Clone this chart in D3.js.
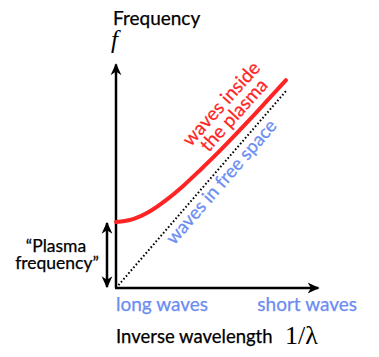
<!DOCTYPE html>
<html><head><meta charset="utf-8">
<script src="https://cdn.jsdelivr.net/npm/d3@7"></script>
<style>
body{margin:0;background:#fff;}
text{font-family:Lato,"Open Sans",sans-serif;}
.sans{stroke-width:0.25px;}
</style></head>
<body><svg id="c" width="379" height="357"></svg>
<script>
// Inverse wavelength (arbitrary units) and frequency of waves inside the plasma
const invWavelength = [0, 1, 2, 3, 4, 5, 6, 7, 8, 9, 10];
const plasmaFreq    = [3.35, 3.50, 3.90, 4.50, 5.22, 6.03, 6.87, 7.76, 8.67, 9.61, 10.55];
// Waves in free space (light line)
const freeSpaceK = [0, 10];
const freeSpaceF = [0, 10];
const plasmaFrequencyValue = 3.35;
const xLabels = ["long waves", "short waves"];

const svg = d3.select("#c");
const red = "#ff2424", blue = "#6b8cf2";
const x = d3.scaleLinear().domain([0, 10]).range([116, 286]);
const y = d3.scaleLinear().domain([0, 10]).range([288, 91]);

const defs = svg.append("defs");
defs.append("marker").attr("id","ah2").attr("viewBox","0 0 10 10").attr("refX",9).attr("refY",5)
  .attr("markerWidth",12).attr("markerHeight",12).attr("markerUnits","userSpaceOnUse")
  .attr("orient","auto-start-reverse")
  .append("path").attr("d","M0,0.5 L10,5 L0,9.5 L3,5 Z").attr("fill","#000");

// axes
svg.append("line").attr("x1",x(0)).attr("y1",y(0)).attr("x2",x(0)).attr("y2",y(11.35))
  .attr("stroke","#000").attr("stroke-width",2.5).attr("marker-end","url(#ah2)");
svg.append("line").attr("x1",x(0)-1).attr("y1",y(0)).attr("x2",x(11.9)).attr("y2",y(0))
  .attr("stroke","#000").attr("stroke-width",2.5).attr("marker-end","url(#ah2)");

// free-space line (dotted)
svg.append("line").attr("x1",x(freeSpaceK[0])).attr("y1",y(freeSpaceF[0]))
  .attr("x2",x(freeSpaceK[1])).attr("y2",y(freeSpaceF[1]))
  .attr("stroke","#000").attr("stroke-width",2).attr("stroke-dasharray","1.6,2.2");

// plasma curve
const line = d3.line().x((d,i)=>x(invWavelength[i])).y(d=>y(d)).curve(d3.curveMonotoneX);
svg.append("path").datum(plasmaFreq).attr("d",line).attr("fill","none")
  .attr("stroke",red).attr("stroke-width",4).attr("stroke-linecap","round");

// plasma frequency double arrow
svg.append("line").attr("x1",107).attr("y1",y(0)-1).attr("x2",107).attr("y2",y(plasmaFrequencyValue)+1)
  .attr("stroke","#000").attr("stroke-width",2.5)
  .attr("marker-start","url(#ah2)").attr("marker-end","url(#ah2)");

function sans(sel, col){ return sel.attr("class","sans").attr("fill",col).attr("stroke",col); }

// texts
sans(svg.append("text").attr("x",113).attr("y",25).attr("font-size",19), "#000").text("Frequency");
svg.append("text").attr("x",111).attr("y",48).attr("font-size",25)
  .style("font-family","'Liberation Serif',serif").style("font-style","italic").text("f");

sans(svg.append("text").attr("x",56).attr("y",252).attr("font-size",17.5).attr("text-anchor","middle"),"#000").text("\u201CPlasma");
sans(svg.append("text").attr("x",57).attr("y",269).attr("font-size",17.5).attr("text-anchor","middle"),"#000").text("frequency\u201D");

sans(svg.append("text").attr("x",116).attr("y",311).attr("font-size",19), blue).text(xLabels[0]);
sans(svg.append("text").attr("x",357).attr("y",311).attr("font-size",19).attr("text-anchor","end"), blue).text(xLabels[1]);

sans(svg.append("text").attr("x",116).attr("y",343).attr("font-size",18.5), "#000").text("Inverse wavelength");
svg.append("text").attr("x",285).attr("y",344).attr("font-size",26)
  .style("font-family","'Liberation Serif',serif").text("1/\u03BB");

const g1 = svg.append("g").attr("transform","translate(226,108) rotate(-48)");
sans(g1.append("text").attr("text-anchor","middle").attr("y",0).attr("font-size",19), red).text("waves inside");
sans(g1.append("text").attr("text-anchor","middle").attr("y",17).attr("font-size",19), red).text("the plasma");

sans(svg.append("text").attr("transform","translate(226,186) rotate(-49)").attr("text-anchor","middle")
  .attr("font-size",18.5), blue).text("waves in free space");
</script></body></html>
